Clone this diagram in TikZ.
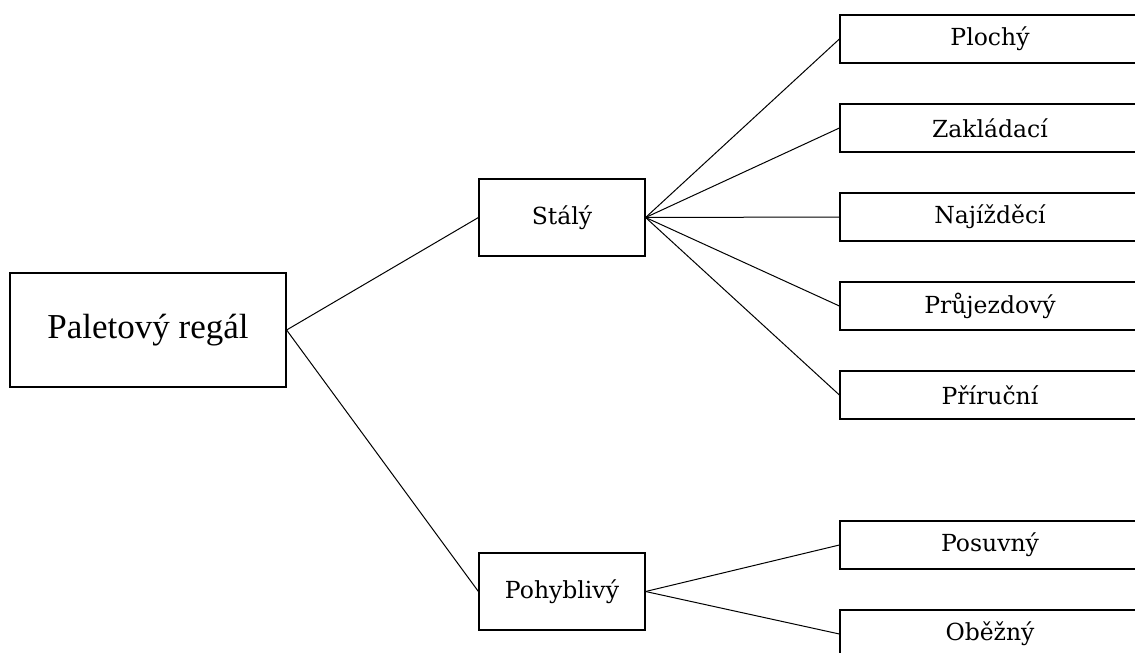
\documentclass[tikz,border=0pt]{standalone}
\usepackage{fontspec}
\setmainfont{DejaVu Serif}
\newfontfamily\titlefont{Liberation Serif}
\begin{document}
\begin{tikzpicture}[x=1pt,y=-1pt,
  box/.style={draw, line width=1.2pt, inner sep=0pt, fill=white,
    font=\fontsize{23.5}{27}\selectfont},
  rootbox/.style={box, minimum width=276pt, minimum height=114pt,
    font=\titlefont\fontsize{35}{40}\selectfont},
  midbox/.style={box, minimum width=166pt, minimum height=77pt},
  leafbox/.style={box, minimum width=300pt, minimum height=48pt},
  link/.style={draw, line width=1pt}]
  \clip (0,0) rectangle (1135,653);
  \fill[white] (0,0) rectangle (1135,653);

  % levels of the tree
  \node[rootbox] (root) at (148,330) {Paletový regál};
  \node[midbox] (stal) at (562,217.5) {Stálý};
  \node[midbox] (pohyb) at (562,591.5) {Pohyblivý};

  \node[leafbox] (ploch) at (990,39) {Plochý};
  \node[leafbox] (zaklad) at (990,128) {Zakládací};
  \node[leafbox] (najizd) at (990,217) {Najížděcí};
  \node[leafbox] (pruj) at (990,306) {Průjezdový};
  \node[leafbox] (prir) at (990,395) {Příruční};
  \node[leafbox] (posuv) at (990,545) {Posuvný};
  \node[leafbox] (obez) at (990,634) {Oběžný};

  % connectors
  \draw[link] (root.east) -- (stal.west);
  \draw[link] (root.east) -- (pohyb.west);
  \foreach \t in {ploch,zaklad,najizd,pruj,prir}
    \draw[link] (stal.east) -- (\t.west);
  \foreach \t in {posuv,obez}
    \draw[link] (pohyb.east) -- (\t.west);
\end{tikzpicture}
\end{document}
